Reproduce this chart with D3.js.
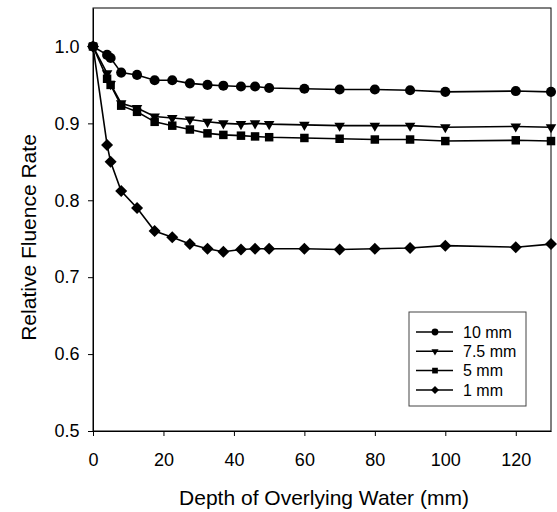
<!DOCTYPE html>
<html>
<head>
<meta charset="utf-8">
<script src="https://cdn.jsdelivr.net/npm/d3@7"></script>
<style>
  body { margin: 0; background: #fff; }
  text { font-family: "Liberation Sans", Arial, sans-serif; fill: #000; }
  .line { fill: none; stroke: #000; stroke-width: 1.6; }
</style>
</head>
<body>
<div id="container"></div>
<script>
const width = 557, height = 512
const margin = ({top: 8, right: 6, bottom: 81, left: 93})

// depth of overlying water (mm)
const depth = [0, 4, 5, 8, 12.5, 17.5, 22.5, 27.5, 32.5, 37, 42, 46, 50, 60, 70, 80, 90, 100, 120, 130]
const mm10 = [1.0, 0.989, 0.985, 0.966, 0.963, 0.956, 0.956, 0.952, 0.950, 0.949, 0.948, 0.948, 0.946, 0.945, 0.944, 0.944, 0.943, 0.941, 0.942, 0.941]
const mm75 = [1.0, 0.965, 0.951, 0.926, 0.920, 0.909, 0.907, 0.905, 0.902, 0.900, 0.899, 0.900, 0.899, 0.898, 0.897, 0.897, 0.897, 0.895, 0.896, 0.895]
const mm5 = [1.0, 0.958, 0.950, 0.923, 0.915, 0.902, 0.897, 0.892, 0.887, 0.885, 0.884, 0.883, 0.882, 0.881, 0.880, 0.879, 0.879, 0.877, 0.878, 0.877]
const mm1 = [1.0, 0.872, 0.850, 0.812, 0.790, 0.760, 0.752, 0.743, 0.737, 0.733, 0.736, 0.737, 0.737, 0.737, 0.736, 0.737, 0.738, 0.741, 0.739, 0.743]

const seriesNames = ["10 mm", "7.5 mm", "5 mm", "1 mm"]
const xTicks = [0, 20, 40, 60, 80, 100, 120]
const yTicks = [0.5, 0.6, 0.7, 0.8, 0.9, 1.0]

const series = [
    {name: seriesNames[0], values: mm10, shape: d3.symbolCircle, size: 80, rot: 0},
    {name: seriesNames[1], values: mm75, shape: d3.symbolTriangle, size: 48, rot: 180},
    {name: seriesNames[2], values: mm5, shape: d3.symbolSquare, size: 72, rot: 0},
    {name: seriesNames[3], values: mm1, shape: d3.symbolSquare, size: 72, rot: 45}
]

const w = width - margin.left - margin.right
const h = height - margin.top - margin.bottom

const x = d3.scaleLinear().domain([0, 130]).range([0, w])
const y = d3.scaleLinear().domain([0.5, 1.05]).range([h, 0])

const svg = d3.select("#container").append("svg")
    .attr("width", width)
    .attr("height", height)

const g = svg.append("g").attr("transform", `translate(${margin.left},${margin.top})`)

// frame
g.append("rect")
    .attr("width", w).attr("height", h)
    .attr("fill", "none").attr("stroke", "#000").attr("stroke-width", 1)

const xAxis = g.append("g")
    .attr("transform", `translate(0,${h})`)
    .call(d3.axisBottom(x).tickValues(xTicks).tickSize(5).tickSizeOuter(0))
xAxis.selectAll("text").attr("font-size", 18).attr("dy", "1.5em")

const yAxis = g.append("g")
    .call(d3.axisLeft(y).tickValues(yTicks).tickFormat(d3.format(".1f")).tickSize(5).tickSizeOuter(0))
yAxis.selectAll("text").attr("font-size", 18).attr("dx", "-0.3em")

g.selectAll(".domain, .tick line").attr("stroke", "#000")
g.selectAll(".tick text").attr("font-family", "Liberation Sans, Arial, sans-serif")

// axis titles
svg.append("text")
    .attr("x", margin.left + w / 2 + 2)
    .attr("y", 505)
    .attr("text-anchor", "middle")
    .attr("font-size", 21)
    .text("Depth of Overlying Water (mm)")

svg.append("text")
    .attr("transform", `translate(36,${margin.top + h / 2 + 18}) rotate(-90)`)
    .attr("text-anchor", "middle")
    .attr("font-size", 21)
    .text("Relative Fluence Rate")

const line = d3.line()
    .x((d, i) => x(depth[i]))
    .y(d => y(d))

// 1 mm first so the upper curves sit on top near the origin
series.slice().reverse().forEach(s => {
    g.append("path").datum(s.values).attr("class", "line").attr("d", line)
    g.selectAll(null)
        .data(s.values)
        .enter()
        .append("path")
        .attr("d", d3.symbol().type(s.shape).size(s.size))
        .attr("transform", (d, i) => `translate(${x(depth[i])},${y(d)}) rotate(${s.rot})`)
        .attr("fill", "#000")
})

// legend
const legend = g.append("g").attr("transform", `translate(${409 - margin.left},${312 - margin.top})`)
legend.append("rect")
    .attr("width", 117).attr("height", 94)
    .attr("fill", "#fff").attr("stroke", "#444").attr("stroke-width", 1)

series.forEach((s, i) => {
    const row = legend.append("g").attr("transform", `translate(0,${20 + i * 19.3})`)
    row.append("line").attr("x1", 7).attr("x2", 44)
        .attr("stroke", "#000").attr("stroke-width", 1.5)
    row.append("path")
        .attr("d", d3.symbol().type(s.shape).size(s.size * 0.45))
        .attr("transform", `translate(26,0) rotate(${s.rot})`)
        .attr("fill", "#000")
    row.append("text")
        .attr("x", 54).attr("dy", "0.35em")
        .attr("font-size", 16)
        .text(s.name)
})
</script>
</body>
</html>
